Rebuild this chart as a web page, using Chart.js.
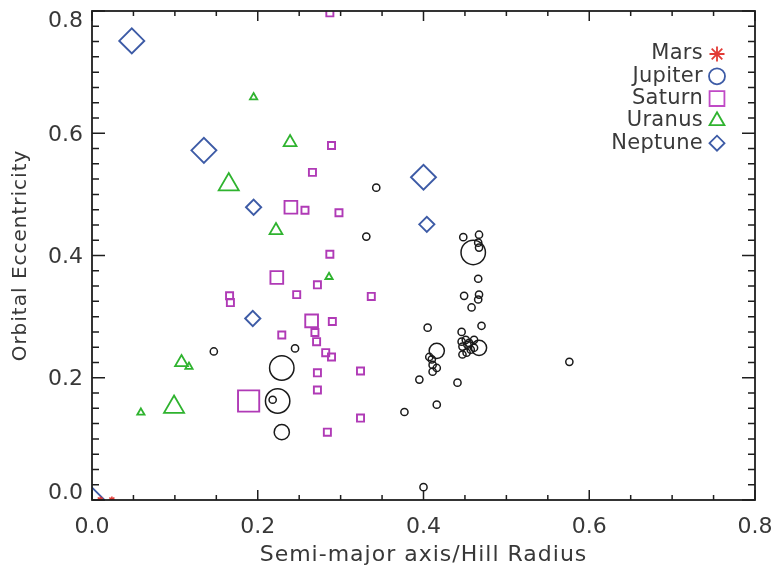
<!DOCTYPE html>
<html>
<head>
<meta charset="utf-8">
<script src="https://cdn.jsdelivr.net/npm/chart.js@4.4.1/dist/chart.umd.min.js"></script>
<style>
  html, body { margin: 0; padding: 0; background: #ffffff; }
  #wrap { width: 776px; height: 568px; }
</style>
</head>
<body>
<div id="wrap"><canvas id="c" width="776" height="568"></canvas></div>
<script>
// ---------------- data ----------------
const xTitle = 'Semi-major axis/Hill Radius';
const yTitle = 'Orbital Eccentricity';
const xTicks = [0.0, 0.2, 0.4, 0.6, 0.8];
const yTicks = [0.0, 0.2, 0.4, 0.6, 0.8];
const seriesNames = ['Mars', 'Jupiter', 'Saturn', 'Uranus', 'Neptune'];

// size class of each marker: 1 small, 2 medium, 3 large
const marsX = [0.010, 0.024];
const marsY = [0.000, 0.000];
const marsClass = [1, 1];

const jupiterX = [0.343, 0.331, 0.147, 0.245, 0.229, 0.224, 0.218, 0.229,
  0.448, 0.467, 0.466, 0.467, 0.460, 0.466, 0.449, 0.467, 0.466, 0.458,
  0.405, 0.470, 0.446, 0.446, 0.447, 0.455, 0.461, 0.461, 0.452, 0.447,
  0.453, 0.451, 0.457, 0.467, 0.416, 0.407, 0.410, 0.411, 0.416, 0.411,
  0.395, 0.441, 0.416, 0.377, 0.576, 0.400];
const jupiterY = [0.511, 0.431, 0.243, 0.248, 0.216, 0.162, 0.164, 0.111,
  0.430, 0.434, 0.421, 0.413, 0.405, 0.362, 0.334, 0.336, 0.328, 0.315,
  0.282, 0.285, 0.275, 0.259, 0.251, 0.257, 0.262, 0.249, 0.241, 0.238,
  0.254, 0.262, 0.246, 0.249, 0.244, 0.234, 0.230, 0.221, 0.216, 0.210,
  0.197, 0.192, 0.156, 0.144, 0.226, 0.021];
const jupiterClass = [1, 1, 1, 1, 3, 3, 1, 2,
  1, 1, 1, 1, 3, 1, 1, 1, 1, 1,
  1, 1, 1, 1, 1, 1, 1, 1, 1, 1,
  1, 1, 1, 2, 2, 1, 1, 1, 1, 1,
  1, 1, 1, 1, 1, 1];

const saturnX = [0.287, 0.289, 0.266, 0.240, 0.257, 0.298, 0.287, 0.223,
  0.272, 0.166, 0.167, 0.247, 0.337, 0.265, 0.290, 0.229, 0.269, 0.271,
  0.282, 0.289, 0.272, 0.324, 0.272, 0.189, 0.324, 0.284];
const saturnY = [0.797, 0.580, 0.536, 0.479, 0.474, 0.470, 0.402, 0.364,
  0.352, 0.334, 0.323, 0.336, 0.333, 0.293, 0.292, 0.270, 0.274, 0.259,
  0.241, 0.234, 0.208, 0.211, 0.180, 0.162, 0.134, 0.111];
const saturnClass = [1, 1, 1, 2, 1, 1, 1, 2,
  1, 1, 1, 1, 1, 2, 1, 1, 1, 1,
  1, 1, 1, 1, 1, 3, 1, 1];

const uranusX = [0.195, 0.239, 0.165, 0.222, 0.286, 0.108, 0.117, 0.059, 0.099];
const uranusY = [0.659, 0.585, 0.516, 0.441, 0.365, 0.225, 0.218, 0.143, 0.152];
const uranusClass = [1, 2, 3, 2, 1, 2, 1, 1, 3];

const neptuneX = [0.048, 0.135, 0.195, 0.400, 0.404, 0.194, 0.000];
const neptuneY = [0.751, 0.572, 0.479, 0.528, 0.451, 0.297, 0.000];
const neptuneClass = [3, 3, 2, 3, 2, 2, 3];

// ---------------- styles ----------------
const styleOf = {
  Mars:    { shape: 'star',     color: '#e23b36', legendColor: '#e23b36', radius: {1: 3.5, 2: 6, 3: 9},      lw: 1.6, legendR: 7.5 },
  Jupiter: { shape: 'circle',   color: '#1a1a1a', legendColor: '#3d5ba6', radius: {1: 3.6, 2: 7.6, 3: 12.2}, lw: 1.5, legendR: 8 },
  Saturn:  { shape: 'rect',     color: '#b03ab6', legendColor: '#c04ac6', radius: {1: 5, 2: 9, 3: 15},       lw: 1.9, legendR: 10.5 },
  Uranus:  { shape: 'triangle', color: '#2fb32f', legendColor: '#2fb32f', radius: {1: 4.2, 2: 7.4, 3: 11.6}, lw: 1.8, legendR: 8.6 },
  Neptune: { shape: 'rectRot',  color: '#3d5ba6', legendColor: '#3d5ba6', radius: {1: 5, 2: 7.6, 3: 12.5},   lw: 1.9, legendR: 7.5 }
};

function toPoints(xs, ys) { return xs.map((v, i) => ({ x: v, y: ys[i] })); }

const seriesData = {
  Mars:    { pts: toPoints(marsX, marsY), cls: marsClass },
  Jupiter: { pts: toPoints(jupiterX, jupiterY), cls: jupiterClass },
  Saturn:  { pts: toPoints(saturnX, saturnY), cls: saturnClass },
  Uranus:  { pts: toPoints(uranusX, uranusY), cls: uranusClass },
  Neptune: { pts: toPoints(neptuneX, neptuneY), cls: neptuneClass }
};

const datasets = seriesNames.map(name => {
  const st = styleOf[name];
  const d = seriesData[name];
  return {
    label: name,
    data: d.pts,
    pointStyle: st.shape,
    pointRadius: d.cls.map(c => st.radius[c]),
    pointBorderColor: st.color,
    pointBackgroundColor: 'rgba(0,0,0,0)',
    pointBorderWidth: st.lw,
    borderColor: st.color,
    backgroundColor: 'rgba(0,0,0,0)',
    showLine: false,
    clip: 0
  };
});

const FONT = '"DejaVu Sans", "Liberation Sans", sans-serif';
const TEXT = '#383838';

// frame + inward ticks on all sides + tick labels
const framePlugin = {
  id: 'frame',
  afterDatasetsDraw(chart) {
    const { ctx, chartArea: a, scales: { x, y } } = chart;
    ctx.save();
    ctx.strokeStyle = '#1e1e1e';
    ctx.lineWidth = 1.8;
    ctx.strokeRect(a.left, a.top, a.right - a.left, a.bottom - a.top);
    ctx.lineWidth = 1.5;
    ctx.beginPath();
    for (let i = 0; i <= 16; i++) {
      const px = x.getPixelForValue(i * 0.05);
      const L = (i % 4 === 0) ? 10 : 5;
      ctx.moveTo(px, a.bottom); ctx.lineTo(px, a.bottom - L);
      ctx.moveTo(px, a.top); ctx.lineTo(px, a.top + L);
    }
    for (let i = 0; i <= 32; i++) {
      const py = y.getPixelForValue(i * 0.025);
      const L = (i % 8 === 0) ? 13 : 7;
      ctx.moveTo(a.left, py); ctx.lineTo(a.left + L, py);
      ctx.moveTo(a.right, py); ctx.lineTo(a.right - L, py);
    }
    ctx.stroke();

    // tick labels
    ctx.fillStyle = TEXT;
    ctx.font = '22px ' + FONT;
    ctx.textBaseline = 'middle';
    ctx.textAlign = 'center';
    xTicks.forEach(v => {
      ctx.fillText(v.toFixed(1), x.getPixelForValue(v), a.bottom + 27);
    });
    ctx.textAlign = 'right';
    yTicks.forEach(v => {
      const py = Math.min(Math.max(y.getPixelForValue(v) + 2, a.top + 10), a.bottom - 7);
      ctx.fillText(v.toFixed(1), a.left - 9, py);
    });
    ctx.restore();
  }
};

// axis titles and legend (text left, symbol right)
const textPlugin = {
  id: 'texts',
  afterDraw(chart) {
    const { ctx, chartArea: a } = chart;
    ctx.save();
    ctx.fillStyle = TEXT;
    ctx.textBaseline = 'middle';
    // x title
    ctx.font = '22px ' + FONT;
    ctx.textAlign = 'center';
    try { ctx.letterSpacing = '1px'; } catch (e) {}
    ctx.fillText(xTitle, (a.left + a.right) / 2, a.bottom + 55);
    // y title
    ctx.save();
    ctx.font = '20px ' + FONT;
    ctx.translate(a.left - 71, (a.top + a.bottom) / 2);
    ctx.rotate(-Math.PI / 2);
    ctx.fillText(yTitle, 0, 0);
    ctx.restore();
    // legend
    ctx.font = '21px ' + FONT;
    ctx.textAlign = 'right';
    try { ctx.letterSpacing = '0.3px'; } catch (e) {}
    const tx = a.right - 52, mx = a.right - 38;
    seriesNames.forEach((name, i) => {
      const yy = a.top + 43 + i * 22.3;
      ctx.fillStyle = '#3a3a3a';
      ctx.fillText(name, tx, yy);
      const st = styleOf[name];
      ctx.save();
      ctx.strokeStyle = st.legendColor;
      ctx.fillStyle = 'rgba(0,0,0,0)';
      ctx.lineWidth = 1.8;
      Chart.helpers.drawPoint(ctx, { pointStyle: st.shape, radius: st.legendR, rotation: 0, borderWidth: 1.8 }, mx, yy);
      ctx.restore();
    });
    ctx.restore();
  }
};

new Chart(document.getElementById('c'), {
  type: 'scatter',
  data: { datasets },
  plugins: [framePlugin, textPlugin],
  options: {
    responsive: false,
    animation: false,
    events: [],
    layout: { autoPadding: false, padding: { left: 0, right: 21, top: 11, bottom: 0 } },
    plugins: { legend: { display: false }, tooltip: { enabled: false } },
    scales: {
      x: {
        type: 'linear', min: 0, max: 0.8,
        afterBuildTicks: s => { s.ticks = xTicks.map(v => ({ value: v })); },
        afterFit: s => { s.height = 68; s.paddingLeft = 0; s.paddingRight = 0; },
        grid: { display: false, drawTicks: false },
        border: { display: false },
        ticks: { display: false }
      },
      y: {
        type: 'linear', min: 0, max: 0.8,
        afterBuildTicks: s => { s.ticks = yTicks.map(v => ({ value: v })); },
        afterFit: s => { s.width = 92; s.paddingTop = 0; s.paddingBottom = 0; },
        grid: { display: false, drawTicks: false },
        border: { display: false },
        ticks: { display: false }
      }
    }
  }
});
</script>
</body>
</html>
